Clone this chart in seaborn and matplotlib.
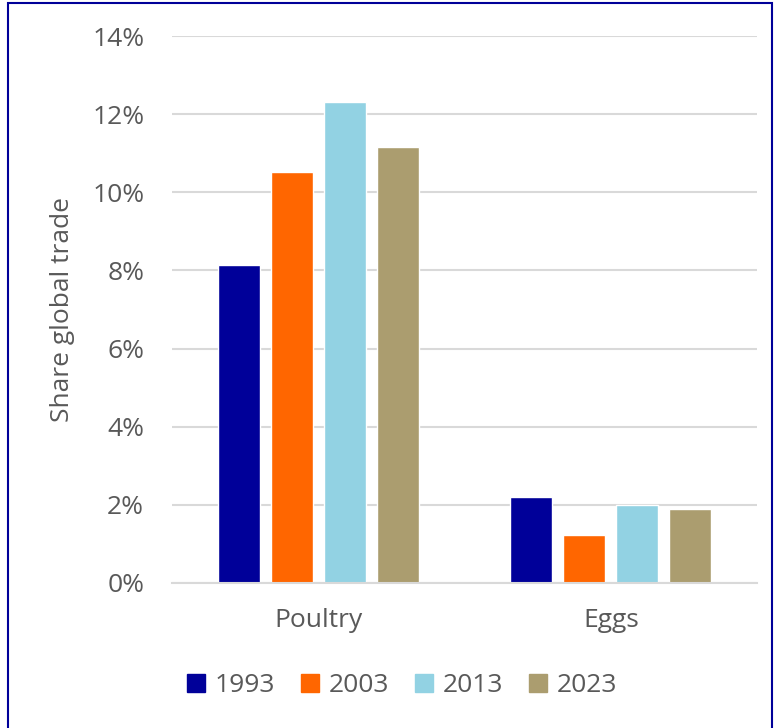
import matplotlib
matplotlib.use("Agg")
import matplotlib.pyplot as plt
import matplotlib.patches as mpatches
import seaborn as sns
import pandas as pd
from matplotlib.ticker import PercentFormatter

# ========== Data ==========
categories = ["Poultry", "Eggs"]
years = ["1993", "2003", "2013", "2023"]
poultry = [8.14, 10.52, 12.31, 11.16]
eggs = [2.20, 1.23, 2.00, 1.89]
colors = ["#000099", "#FF6600", "#92D2E3", "#AB9D6F"]

df = pd.DataFrame({
    "category": ["Poultry"] * 4 + ["Eggs"] * 4,
    "year": years * 2,
    "share": poultry + eggs,
})

# ========== Style ==========
sns.set_theme(style="white")
plt.rcParams["font.family"] = ["Open Sans", "DejaVu Sans"]
text_col = "#595959"

fig = plt.figure(figsize=(7.77, 7.28), dpi=100)
ax = fig.add_axes([172 / 777, 1 - 583 / 728, 585 / 777, 547 / 728])

sns.barplot(data=df, x="category", y="share", hue="year", order=categories,
            hue_order=years, palette=colors, width=0.725, gap=0.2,
            saturation=1, ax=ax, legend=False)

ax.set_ylim(0, 14)
ax.set_xlim(-0.5, 1.5)
ax.set_yticks(range(0, 15, 2))
ax.yaxis.set_major_formatter(PercentFormatter(decimals=0))
ax.grid(axis="y", color="#D9D9D9", linewidth=1.5)
ax.set_axisbelow(True)
for s in ["left", "right", "top"]:
    ax.spines[s].set_visible(False)
ax.spines["bottom"].set_color("#D9D9D9")
ax.spines["bottom"].set_linewidth(1.5)

ax.tick_params(axis="y", length=0, pad=20, labelsize=19, labelcolor=text_col)
ax.tick_params(axis="x", length=0, pad=18, labelsize=19, labelcolor=text_col)
ax.set_xlabel("")
ax.set_ylabel("Share global trade", fontsize=19, color=text_col, labelpad=12)

# legend
handles = [mpatches.Patch(color=c, label=y) for c, y in zip(colors, years)]
fig.legend(handles=handles, loc="center", bbox_to_anchor=(402 / 777, 1 - 686 / 728),
           ncol=4, frameon=False, fontsize=19, labelcolor=text_col,
           handlelength=0.68, handleheight=0.68, handletextpad=0.35, columnspacing=1.0)

# navy border round the figure
fig.patches.append(mpatches.Rectangle((8 / 777, -0.01), 764 / 777, 1 - 3 / 728 + 0.01,
                                      transform=fig.transFigure, fill=False,
                                      edgecolor="#000099", linewidth=1.5))

fig.savefig("out.png", dpi=100)
